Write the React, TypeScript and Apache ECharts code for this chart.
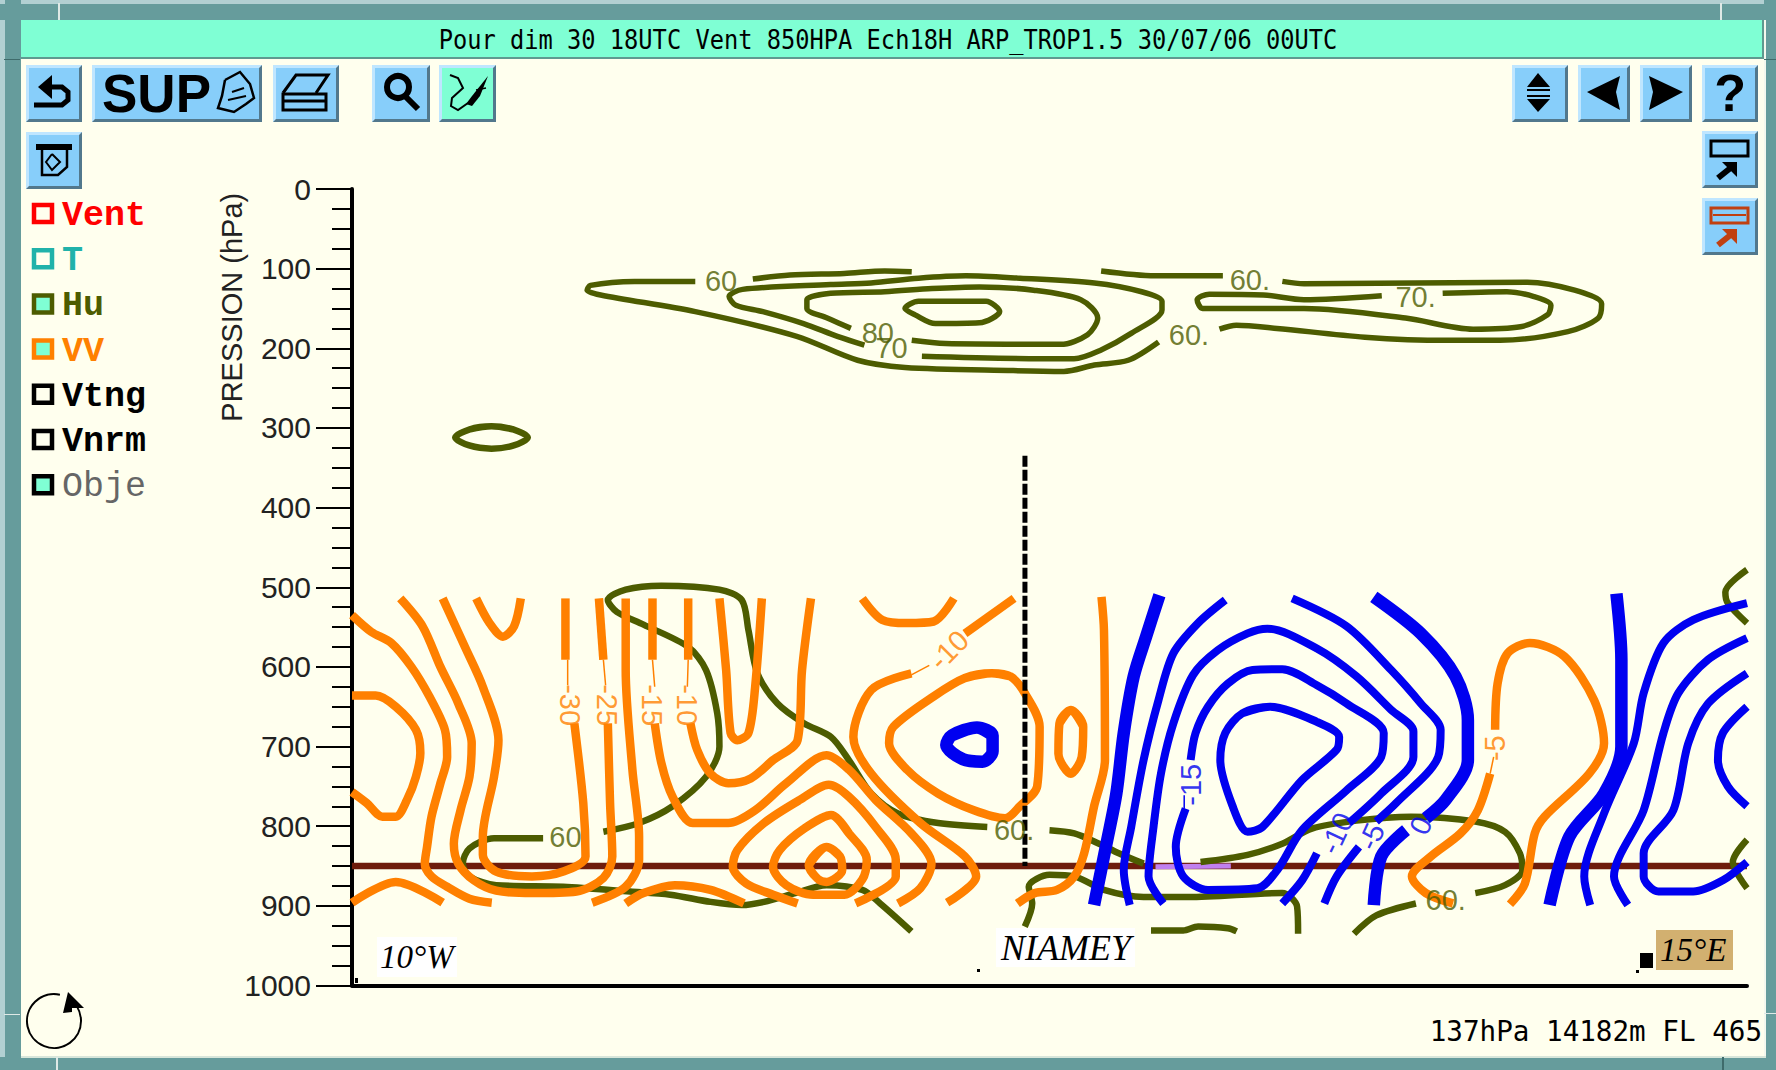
import React, { useEffect, useRef } from "react";
import * as echarts from "echarts";

const title = "Pour dim 30 18UTC Vent 850HPA Ech18H ARP_TROP1.5 30/07/06 00UTC";
const statusText = "137hPa 14182m FL 465";
const yTicks = [0, 100, 200, 300, 400, 500, 600, 700, 800, 900, 1000];
const legendNames = ["Vent", "T", "Hu", "VV", "Vtng", "Vnrm", "Obje"];

// [longitude (deg), pressure (hPa)]
const ventLevel = [[-10, 850], [15, 850]];
const ventHighlight = [[4.4, 851], [5.75, 850]];
const niamey = [[2.06, 335], [2.06, 850]];

const vvLines = [
  [[-10,535],[-9.655,556],[-9.295,570],[-8.935,600],[-8.615,637],[-8.335,679],[-8.295,713],[-8.415,746],[-8.575,788],[-8.655,826],[-8.695,847],[-8.575,863],[-8.295,876],[-7.895,891],[-7.495,896]],
  [[-10,636],[-9.575,636],[-9.215,650],[-8.855,679],[-8.775,708],[-8.855,738],[-9.015,767],[-9.215,788],[-9.455,788],[-9.735,771],[-10,757]],
  [[-8.375,514],[-7.975,575],[-7.655,625],[-7.375,692],[-7.455,738],[-7.655,813],[-7.655,836],[-7.415,857],[-6.775,863],[-6.215,857],[-5.815,838],[-5.855,771],[-6.015,671]],
  [[-6.175,591],[-6.175,514]],
  [[-9.135,514],[-8.735,549],[-8.415,600],[-8.095,646],[-7.855,696],[-7.895,738],[-8.055,780],[-8.175,822],[-8.095,847],[-7.815,868],[-7.415,881],[-6.775,884],[-5.975,882],[-5.495,865],[-5.335,838],[-5.375,771],[-5.415,671]],
  [[-5.495,591],[-5.575,514]],
  [[-5.095,514],[-5.095,604],[-4.975,729],[-4.855,813],[-4.855,842],[-5.095,876],[-5.695,896]],
  [[-7.775,514],[-7.535,545],[-7.295,562],[-7.095,549],[-6.975,514]],
  [[-4.615,514],[-4.615,591]],
  [[-4.575,671],[-4.455,721],[-4.255,763],[-3.895,796],[-3.255,796],[-2.775,780],[-2.215,746],[-1.495,711],[-1.095,729],[-0.615,767],[0.025,809],[0.385,847],[0.185,878],[-0.215,897]],
  [[-3.975,514],[-3.975,591]],
  [[-3.935,671],[-3.815,704],[-3.575,734],[-3.255,746],[-2.855,740],[-2.455,717],[-2.015,692],[-1.935,604],[-1.775,514]],
  [[-3.415,514],[-3.295,604],[-3.215,683],[-3.095,692],[-2.895,683],[-2.775,625],[-2.655,514]],
  [[-5.095,897],[-4.775,884],[-4.215,874],[-3.575,880],[-2.975,897]],
  [[-10,896],[-9.215,870],[-8.375,896]],
  [[1.865,514],[0.985,558]],
  [[0.025,608],[-0.695,629],[-1.015,688],[-0.695,734],[0.185,796],[0.985,838],[1.185,863],[0.665,896]],
  [[1.465,608],[0.985,614],[0.425,637],[-0.295,675],[-0.375,696],[-0.055,729],[0.505,759],[1.145,780],[1.705,790],[1.968,775],[2.279,750],[2.323,675],[2.057,633],[1.8,612],[1.465,608]],
  [[-0.855,514],[-0.495,541],[-0.055,545],[0.425,543],[0.785,514]],
  [[-2.015,897],[-2.455,886],[-2.935,872],[-3.175,851],[-3.095,830],[-2.615,796],[-1.975,767],[-1.455,748],[-1.095,763],[-0.615,801],[-0.255,842],[-0.255,863],[-0.975,897]],
  [[-1.415,786],[-1.895,803],[-2.335,830],[-2.455,851],[-2.215,874],[-1.735,886],[-1.175,886],[-0.855,867],[-0.775,842],[-1.095,809],[-1.415,786]],
  [[-1.495,826],[-1.815,849],[-1.655,866],[-1.495,870],[-1.215,855],[-1.255,838],[-1.495,826]],
  [[3.432,512],[3.476,554],[3.494,717],[3.299,775],[3.121,834],[2.944,863],[2.633,880],[2.234,884],[1.924,897]],
  [[2.882,654],[2.678,671],[2.66,709],[2.882,734],[3.077,713],[3.104,675],[2.882,654]],
  [[10.752,898],[11.019,872],[11.196,809],[11.373,788],[12.172,734],[12.438,696],[12.261,642],[11.729,587],[11.108,570],[10.708,583],[10.53,621],[10.486,679]],
  [[10.397,734],[10.176,780],[9.865,809],[9.333,838],[8.995,863],[9.244,884],[9.732,897]],
];
const vvStubs = [
  [[-6.135,591],[-6.135,623]],
  [[-5.495,591],[-5.455,623]],
  [[-4.615,591],[-4.575,625]],
  [[-3.975,591],[-3.99,625]],
  [[0.345,598],[0.025,610]],
  [[10.46,713],[10.397,734]],
];
const vvLabelText = ["-30", "-25", "-15", "-10", "-10", "-5"];
const vvLabelPos = [[-6.095,648],[-5.43,648],[-4.62,648],[-3.99,648],[0.7,579],[10.486,702]];

const windThin = [
  [[5.65,516],[5.162,545],[4.719,583],[4.452,642],[4.186,717],[3.964,801],[3.831,855],[3.938,899]],
  [[4.541,897],[4.275,863],[4.364,801],[4.497,734],[4.719,671],[5.074,610],[5.517,579],[6.05,558],[6.404,552],[7.292,577],[8.002,612],[8.623,654],[9.022,681],[9.022,713],[8.445,759],[7.869,796]],
  [[5.029,717],[5.118,683],[5.34,650],[5.695,621],[6.138,604],[6.671,603],[7.292,623],[7.824,646],[8.49,683],[8.445,713],[7.824,755],[7.026,805],[6.582,855],[6.227,878],[5.34,880],[4.896,863],[4.763,826],[4.94,778]],
  [[6.449,650],[5.961,658],[5.65,683],[5.561,717],[5.783,775],[6.05,807],[6.316,801],[7.026,742],[7.647,704],[7.691,688],[7.292,669],[6.449,650]],
  [[7.292,834],[7.026,868],[6.671,897]],
  [[6.848,514],[7.824,549],[8.623,604],[9.155,646],[9.51,679],[9.466,713],[8.712,771],[8.356,794]],
  [[8.046,826],[7.647,863],[7.425,897]],
  [[15,520],[14.036,541],[13.503,570],[13.148,633],[12.971,696],[12.438,784],[12.083,863],[12.19,899]],
  [[15,564],[14.302,591],[13.769,633],[13.503,683],[13.148,780],[12.616,863],[12.864,899]],
  [[15,608],[14.302,646],[13.947,696],[13.68,780],[13.148,834],[13.148,863],[13.414,882],[14.036,882],[14.568,868],[15,845]],
  [[15,650],[14.568,683],[14.479,717],[14.657,750],[15,775]],
];
const windThick = [
  [[4.47,510],[4.231,562],[4.009,612],[3.831,683],[3.698,759],[3.521,822],[3.299,899]],
  [[8.312,512],[9.155,558],[9.776,612],[9.998,667],[9.998,717],[9.599,767],[9.244,790]],
  [[8.889,805],[8.445,838],[8.312,899]],
  [[12.66,508],[12.749,591],[12.749,700],[12.438,759],[11.817,813],[11.462,899]],
  [[1.2,676],[0.75,686],[0.65,698],[0.95,716],[1.3,719],[1.48,706],[1.48,686],[1.2,676]],
];
const windStubs = [[[4.914,761],[4.914,778]]];
const windLabelText = ["-15", "-10", "-5", "0"];
const windLabelPos = [[5.029,748],[7.647,809],[8.268,813],[9.155,799]];

const humLower = [
  [[-6.575,815],[-7.455,815],[-7.895,828],[-8.015,847],[-7.895,863],[-7.415,874],[-6.215,876],[-5.015,882],[-4.295,886],[-3.575,895],[-3.015,899],[-2.615,895],[-2.055,884],[-1.495,874],[-0.855,880],[-0.535,897],[0.025,932]],
  [[-5.495,807],[-4.855,796],[-4.255,775],[-3.655,738],[-3.415,700],[-3.455,658],[-3.655,604],[-3.975,575],[-4.775,547],[-5.255,531],[-5.415,516],[-5.095,503],[-4.455,498],[-3.415,503],[-3.015,516],[-2.895,554],[-2.735,608],[-2.375,646],[-1.895,671],[-1.415,688],[-1.095,717],[-0.695,759],[-0.215,784],[0.505,796],[1.385,801]],
  [[2.5,805],[2.944,809],[3.388,822],[3.742,834],[4.186,847]],
  [[5.207,845],[6.05,836],[6.671,822],[7.203,803],[8.002,793],[8.978,788],[10.131,794],[10.664,807],[10.93,834],[10.974,855],[10.664,874],[10.131,884]],
  [[2.057,926],[2.19,897],[2.128,876],[2.5,861],[2.944,863],[3.476,880],[4.186,889],[4.985,889],[6.671,884],[6.937,901],[6.955,935]],
  [[4.319,931],[4.896,931],[5.163,926],[5.695,928],[5.854,932]],
  [[7.957,935],[8.357,912],[9.067,897]],
  [[15,478],[14.612,506],[14.657,520],[15,545]],
  [[15,817],[14.746,845],[15,878]],
  [[-7.5,298],[-7.1,302],[-6.85,312],[-7.1,322],[-7.5,326],[-7.9,322],[-8.15,312],[-7.9,302],[-7.5,298]],
];
const humUpper = [
  [[-3.848,116],[-4.939,116],[-5.727,121],[-5.787,127],[-5.545,133],[-3.848,154],[-2.03,185],[-0.939,215],[-0.09,224],[1.849,228],[2.758,229],[3.304,221],[3.91,215],[4.455,192]],
  [[-2.817,113],[-2.151,108],[-1.181,106],[-0.454,103],[0.031,104]],
  [[0.213,210],[2.334,213],[2.94,213],[3.425,202],[3.97,181],[4.516,152],[4.516,141],[4.152,129],[3.304,118],[1.97,112],[1.001,109],[0.152,112],[-0.696,118],[-1.424,120],[-3,126],[-3.242,135],[-3.121,146],[-2.636,154],[-1.908,169],[-1.302,185],[-0.817,196]],
  [[0.031,190],[0.637,194],[2.697,195],[3.182,183],[3.364,162],[3.061,139],[2.213,127],[1.243,123],[0.395,125],[-0.454,129],[-1.424,131],[-1.848,139],[-1.848,150],[-1.484,162],[-1.06,175]],
  [[0.7,141],[0.152,141],[-0.09,150],[0.092,158],[0.455,169],[1.243,168],[1.607,154],[1.364,141],[0.7,141]],
  [[3.425,103],[4.395,109],[5.607,109]],
  [[6.673,116],[7.061,119],[11.061,117],[11.91,127],[12.395,144],[12.334,162],[11.789,179],[10.576,190],[9.607,190],[8.152,186],[6.576,175],[5.849,171],[5.546,176]],
  [[8.455,134],[7.061,139],[6.334,133],[5.364,132],[5.146,139],[5.243,150],[7.061,150],[8.88,162],[10.092,176],[10.94,173],[11.425,158],[11.486,146],[11.182,135],[10.697,129],[9.546,131]],
];
const humLabelText = ["60", "60.", "60.", "60", "80", "70", "60.", "60.", "70."];
const humLabelPos = [[-6.175,813],[1.865,805],[9.6,893],[-3.387,115],[-0.577,181],[-0.33,200],[5.0,183],[6.09,114],[9.06,135]];

const SANS = "Liberation Sans";
const MONO = "DejaVu Sans Mono";
const BG = "#ffffee";
const AQUA = "#7fffd4";
const TEAL = "#669c9c";
const BTN = "#87cefa";
const OLIVE = "#4d5c00";
const ORANGE = "#ff8000";
const BLUE = "#0000f0";

const vvRot = [-90, -90, -90, -90, 45, 90];
const windRot = [90, 65, 65, 65];
const legendColors = ["#ff0000", "#20b2aa", OLIVE, ORANGE, "#000000", "#000000", "#000000"];
const legendText = ["#ff0000", "#20b2aa", OLIVE, ORANGE, "#000000", "#000000", "#666666"];
const legendFill = [BG, BG, AQUA, AQUA, BG, BG, AQUA];

const txt = (x: number, y: number, text: string, o: any = {}) => ({
  type: "text", x, y, z: o.z ?? 120, scaleX: o.scaleX ?? 1, scaleY: o.scaleY ?? 1, rotation: o.rotation ?? 0,
  style: {
    text, fontFamily: o.font ?? SANS, fontSize: o.size ?? 24, fontWeight: o.weight ?? "normal", fontStyle: o.style ?? "normal",
    fill: o.fill ?? "#000", align: o.align ?? "left", textAlign: o.align ?? "left", verticalAlign: "middle", textVerticalAlign: "middle",
  },
});
const rect = (x: number, y: number, w: number, h: number, fill: string, z = 100, extra: any = {}) => ({
  type: "rect", z, shape: { x, y, width: w, height: h }, style: { fill, ...extra },
});
const poly = (points: number[][], fill: string, z = 120) => ({ type: "polygon", z, shape: { points }, style: { fill } });
const pline = (points: number[][], stroke: string, lineWidth: number, z = 120) => ({
  type: "polyline", z, shape: { points }, style: { stroke, lineWidth, fill: "none" },
});

const button = (x: number, y: number, w: number, h: number, fill = BTN) => [
  rect(x, y, w, h, "#52788c", 110),
  poly([[x, y], [x + w, y], [x + w - 3, y + 3], [x + 3, y + 3], [x + 3, y + h - 3], [x, y + h]], "#bfe6ff", 111),
  rect(x + 3, y + 3, w - 6, h - 6, fill, 112),
];

const outIcon = (y: number, c: string) => [
  { type: "rect", z: 120, shape: { x: 1711, y, width: 37, height: 15 }, style: { fill: "none", stroke: c, lineWidth: 3 } },
  ...(c === "#000000" ? [] : [pline([[1713, y + 7], [1746, y + 7]], c, 2)]),
  pline([[1718, y + 37], [1733, y + 25]], c, 6),
  poly([[1722, y + 21], [1737, y + 21], [1737, y + 36]], c),
];

const chrome = (): any[] => [
  // window frame
  rect(0, 0, 1776, 4, "#b2d0d2"), rect(0, 0, 5, 1070, "#b2d0d2"),
  rect(0, 4, 1776, 16, TEAL), rect(5, 0, 16, 1070, TEAL), rect(1764, 0, 12, 1070, TEAL), rect(0, 1057, 1776, 13, TEAL),
  rect(1764, 20, 2, 1037, "#f4f8ee"), rect(21, 1056, 1745, 2, "#d8e6da"),
  rect(58, 3, 2, 17, "#dfe9e6"), rect(4, 59, 16, 1, "#3f6b6b"), rect(1720, 3, 2, 17, "#dfe9e6"), rect(1764, 59, 12, 1, "#3f6b6b"),
  rect(4, 1014, 16, 1, "#dfe9e6"), rect(56, 1057, 2, 13, "#dfe9e6"), rect(1764, 1013, 12, 1, "#dfe9e6"), rect(1722, 1057, 2, 13, "#3f6b6b"),
  // title bar
  rect(21, 20, 1741, 38, AQUA), rect(21, 57, 1741, 2, "#5f9a90"), rect(1762, 20, 2, 39, "#5f9a90"),
  txt(888, 40, title, { font: MONO, size: 23.7, align: "center", scaleY: 1.12 }),
  // left buttons
  ...button(26, 65, 56, 57),
  poly([[52, 75], [38, 87], [52, 99]], "#000"),
  pline([[46, 87], [62, 87], [68, 92], [68, 100], [62, 105], [34, 105]], "#000", 5),
  ...button(92, 65, 170, 57),
  txt(102, 93, "SUP", { size: 53, weight: "bold" }),
  pline([[225, 80], [240, 72], [250, 84], [254, 98], [246, 104], [234, 112], [218, 108], [222, 96], [225, 80]], "#000", 2.5),
  pline([[232, 92], [244, 88]], "#000", 2), pline([[228, 100], [246, 96]], "#000", 2),
  ...button(273, 65, 66, 57),
  pline([[283, 93], [296, 75], [328, 75], [316, 93]], "#000", 3),
  { type: "rect", z: 120, shape: { x: 283, y: 94, width: 43, height: 16 }, style: { fill: "none", stroke: "#000", lineWidth: 3 } },
  pline([[283, 101], [326, 101]], "#000", 3),
  ...button(372, 65, 58, 57),
  { type: "circle", z: 120, shape: { cx: 398, cy: 87, r: 11 }, style: { fill: "none", stroke: "#000", lineWidth: 6 } },
  pline([[405, 96], [418, 109]], "#000", 6),
  ...button(439, 65, 57, 57, AQUA),
  pline([[450, 75], [458, 78], [463, 88], [452, 98], [451, 106], [458, 110], [468, 103]], "#000", 2),
  poly([[466, 104], [472, 96], [488, 76], [480, 96], [472, 106]], "#000"),
  pline([[476, 90], [486, 88]], "#000", 1.5),
  ...button(26, 132, 56, 57),
  rect(36, 144, 36, 6, "#000", 120),
  pline([[42, 150], [42, 175], [58, 175], [67, 167], [67, 150]], "#000", 2.5),
  pline([[52, 154], [60, 162], [52, 170], [46, 162], [52, 154]], "#000", 2),
  // right buttons
  ...button(1512, 65, 56, 57),
  poly([[1538, 73], [1527, 87], [1550, 87]], "#000"), rect(1527, 89, 23, 2, "#000", 120), rect(1527, 95, 23, 2, "#000", 120),
  poly([[1527, 99], [1550, 99], [1538, 112]], "#000"),
  ...button(1578, 65, 52, 57),
  poly([[1587, 92], [1620, 76], [1616, 92], [1620, 110]], "#000"),
  ...button(1640, 65, 52, 57),
  poly([[1683, 92], [1649, 76], [1653, 92], [1649, 110]], "#000"),
  ...button(1702, 65, 56, 57),
  txt(1730, 93, "?", { size: 52, weight: "bold", align: "center" }),
  ...button(1702, 131, 56, 57), ...outIcon(141, "#000000"),
  ...button(1702, 198, 56, 57), ...outIcon(208, "#c04010"),
  // layer list
  ...legendNames.flatMap((n, i) => {
    const y = 203 + i * 45.2;
    return [
      { type: "rect", z: 120, shape: { x: 34, y: y + 2, width: 18, height: 17 }, style: { fill: legendFill[i], stroke: legendColors[i], lineWidth: 4.5 } },
      txt(62, y + 13, n, { font: "Liberation Mono", size: 35, weight: n === "Obje" ? "normal" : "bold", fill: legendText[i] }),
    ];
  }),
  // map labels
  rect(377, 937, 80, 40, "#ffffff", 115),
  txt(380, 957, "10°W", { font: "Liberation Serif", style: "italic", size: 33 }),
  rect(996, 928, 139, 39, "#ffffff", 115),
  txt(1001, 948, "NIAMEY", { font: "Liberation Serif", style: "italic", size: 36 }),
  rect(1656, 930, 77, 40, "#d2b070", 115),
  txt(1660, 950, "15°E", { font: "Liberation Serif", style: "italic", size: 33 }),
  rect(1640, 953, 13, 15, "#000", 120), rect(1636, 970, 3, 3, "#000", 120),
  rect(977, 969, 3, 3, "#000", 120), rect(355, 978, 3, 5, "#000", 120),
  // status + rotate icon
  txt(1762, 1031, statusText, { font: MONO, size: 27.6, align: "right" }),
  { type: "arc", z: 120, shape: { cx: 54, cy: 1021, r: 27, startAngle: -1.05, endAngle: -1.35, clockwise: true }, style: { stroke: "#000", lineWidth: 2, fill: "none" } },
  poly([[68, 992], [84, 1008], [72, 1008], [72, 1012], [63, 1013]], "#000"),
];

// A closed contour retraces its first and last segments so that the spline has no kink where it closes.
const wrap = (d: number[][]) => {
  const n = d.length;
  const closed = n > 3 && d[0][0] === d[n - 1][0] && d[0][1] === d[n - 1][1];
  return closed ? [d[n - 2], ...d, d[1]] : d;
};

const line = (name: string, data: number[][], color: string, width: number, smooth = 0.3) => ({
  type: "line", name, data: wrap(data), symbol: "none", smooth, silent: true, connectNulls: false,
  lineStyle: { color, width, cap: "butt", join: "round" },
});

const labels = (name: string, text: string[], pos: number[][], rot: number[], color: string) => ({
  type: "scatter", name, symbolSize: 1, silent: true, itemStyle: { color: "transparent" }, z: 20,
  data: text.map((t, i) => ({
    name: t, value: pos[i],
    label: { show: true, position: "inside", formatter: "{b}", rotate: rot[i], color, fontFamily: SANS, fontSize: 29, align: "center", verticalAlign: "middle" },
  })),
});

export default function App() {
  const ref = useRef<HTMLDivElement>(null);
  useEffect(() => {
    if (!ref.current) return;
    const chart = echarts.init(ref.current, undefined, { renderer: "svg" });
    chart.setOption({
      animation: false,
      backgroundColor: BG,
      grid: { left: 352, right: 29, top: 189, bottom: 84.5, containLabel: false },
      xAxis: {
        type: "value", min: -10, max: 15, interval: 5, position: "bottom",
        axisLine: { show: true, onZero: false, lineStyle: { color: "#000", width: 4 } },
        axisTick: { show: false }, axisLabel: { show: false }, splitLine: { show: false },
      },
      yAxis: {
        type: "value", inverse: true, min: yTicks[0], max: yTicks[yTicks.length - 1], interval: 100,
        name: "PRESSION (hPa)", nameLocation: "middle", nameGap: 106, nameRotate: 90, nameMoveOverlap: false,
        nameTextStyle: { fontFamily: SANS, fontSize: 29, color: "#222", padding: [0, 0, 0, 560] },
        axisLine: { show: true, onZero: false, lineStyle: { color: "#000", width: 4 } },
        axisTick: { show: true, length: 36, lineStyle: { color: "#000", width: 2 } },
        minorTick: { show: true, splitNumber: 4, length: 20, lineStyle: { color: "#000", width: 2 } },
        axisLabel: { margin: 41, fontFamily: SANS, fontSize: 30, color: "#222", formatter: (v: number) => String(v) },
        splitLine: { show: false }, minorSplitLine: { show: false },
      },
      series: [
        line("Vent 850", ventLevel, "#6e1c0c", 6.5, 0),
        line("Vent 850 highlight", ventHighlight, "#c080f0", 5, 0),
        ...humUpper.map((d, i) => line(`Hu haut ${i}`, d, OLIVE, 5.5)),
        ...humLower.map((d, i) => line(`Hu bas ${i}`, d, OLIVE, 6.5)),
        ...vvLines.map((d, i) => line(`VV ${i}`, d, ORANGE, 8.5)),
        ...vvStubs.map((d, i) => line(`VV tick ${i}`, d, ORANGE, 1.5, 0)),
        {
          ...line("Niamey", niamey, "#000", 5, 0),
          lineStyle: { color: "#000", width: 5, type: [11, 3], cap: "butt" },
          z: 3,
        },
        ...windThin.map((d, i) => line(`Vent ${i}`, d, BLUE, 8)),
        ...windThick.map((d, i) => line(`Vent fort ${i}`, d, BLUE, 12.5)),
        ...windStubs.map((d, i) => line(`Vent tick ${i}`, d, BLUE, 1.5, 0)),
        labels("VV labels", vvLabelText, vvLabelPos, vvRot, ORANGE),
        labels("Vent labels", windLabelText, windLabelPos, windRot, BLUE),
        labels("Hu labels", humLabelText, humLabelPos, humLabelText.map(() => 0), OLIVE),
      ],
      graphic: { elements: chrome() },
    });
    return () => chart.dispose();
  }, []);
  return <div ref={ref} style={{ position: "fixed", left: 0, top: 0, width: 1776, height: 1070 }} />;
}
